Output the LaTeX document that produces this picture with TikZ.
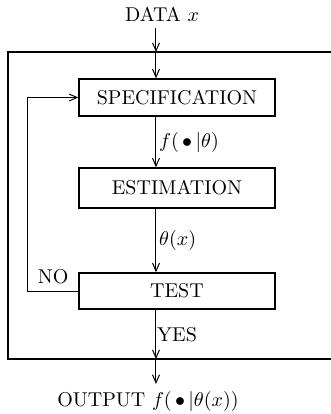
\documentclass[tikz,border=0pt]{standalone}
\usetikzlibrary{arrows.meta}
\begin{document}
\begin{tikzpicture}[x=0.5pt, y=-0.5pt,
    block/.style={draw, line width=0.7pt, minimum width=98pt, inner sep=0pt},
    flow/.style={-{Straight Barb[length=4pt, width=3.5pt]}, line width=0.5pt}]
    \useasboundingbox (0, 0) rectangle (331, 414);
    % open frame round the loop
    \draw[line width=0.6pt] (331, 52) to (8, 52) to (8, 359) to (331, 359);
    \coordinate (top) at (156, 52);
    \coordinate (bottom) at (156, 359);
    \coordinate (loop) at (28, 200);
    \node[block, minimum height=18.5pt] (spec) at (177, 97.5) {SPECIFICATION};
    \node[block, minimum height=20pt] (estim) at (177, 188) {ESTIMATION};
    \node[block, minimum height=18pt] (test) at (177, 291) {TEST};
    \node (data) at (162, 14) {DATA $x$};
    \node (output) at (148, 401) {OUTPUT $f(\,\bullet\,|\theta(x))$};
    \draw[flow] (data.south -| top) to (top);
    \draw[flow] (top) to (spec.north -| top);
    \draw[flow] (spec.south -| top) to node[right, xshift=-2pt] {$f(\,\bullet\,|\theta)$} (estim.north -| top);
    \draw[flow] (estim.south -| top) to node[right, xshift=-2pt] {$\theta(x)$} (test.north -| top);
    \draw[flow] (test.south -| top) to node[right, xshift=-3pt] {YES} (bottom);
    \draw[flow] (bottom) to (output.north -| bottom);
    % NO branch back to the start
    \draw[flow] (test.west) to node[above, pos=0.5] {NO} (loop |- test.west) to (loop |- spec.west) to (spec.west);
\end{tikzpicture}
\end{document}
